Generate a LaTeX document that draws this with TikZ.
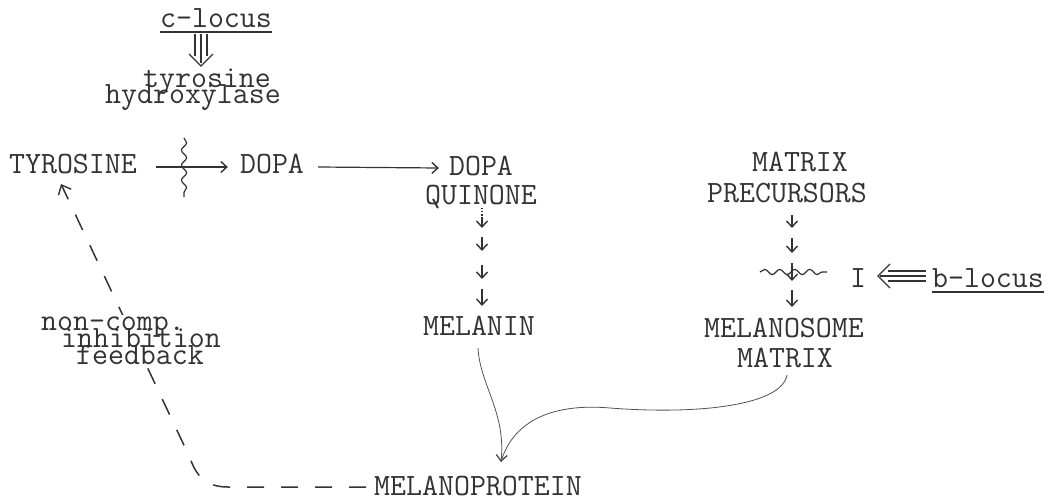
\documentclass[tikz,border=0pt]{standalone}
\usetikzlibrary{arrows.meta,decorations.pathmorphing,backgrounds,fit}
\definecolor{ink}{gray}{0.2}
\begin{document}
\begin{tikzpicture}[x=1pt,y=-1pt,
  lbl/.style={inner sep=0pt, text=ink, font=\ttfamily\fontsize{31}{34}\selectfont, anchor=base},
  conn/.style={draw=ink, line width=1.2pt},
  thin/.style={draw=ink!85, line width=0.8pt},
  tipv/.style={-{Straight Barb[length=6pt,width=11pt,line width=1.4pt]}},
  wavy/.style={decorate, decoration={snake, amplitude=2.6pt, segment length=15pt}},
  fbdash/.style={draw=ink, line width=1.5pt, dash pattern=on 17pt off 17pt}
]
\useasboundingbox (0,0) rectangle (1061,501);

% ---- text nodes
\node[lbl] (clocus) at (216,27) {c-locus};
\node[lbl] (tyrh1) at (207,87) {tyrosine};
\node[lbl] (tyrh2) at (193,103) {hydroxylase};
\node[lbl] (tyr) at (73,173) {TYROSINE};
\node[lbl] (dopa) at (272,173) {DOPA};
\node[lbl] (dq1) at (481,175) {DOPA};
\node[lbl] (dq2) at (481,204) {QUINONE};
\node[lbl] (melanin) at (479,335) {MELANIN};
\node[lbl] (mp) at (478,495) {MELANOPROTEIN};
\node[lbl] (mx1) at (800,171) {MATRIX};
\node[lbl] (mx2) at (787,202) {PRECURSORS};
\node[lbl] (ms1) at (784,337) {MELANOSOME};
\node[lbl] (ms2) at (785,367) {MATRIX};
\node[lbl] (inh) at (858,287) {I};
\node[lbl] (blocus) at (988,287) {b-locus};
\node[lbl] (fb1) at (113,330) {non-comp.};
\node[lbl] (fb2) at (141,347) {inhibition};
\node[lbl] (fb3) at (140,364) {feedback};

% ---- underlines
\draw[conn] ([shift={(0,5)}]clocus.base west) -- ([shift={(0,5)}]clocus.base east);
\draw[conn] ([shift={(0,5)}]blocus.base west) -- ([shift={(0,5)}]blocus.base east);

% ---- triple arrow c-locus => tyrosine hydroxylase
\coordinate (cA) at (201,34);
\coordinate (cB) at (201,66);
\draw[conn] ([shift={(-6,0)}]cA) -- ([shift={(-6,22)}]cA);
\draw[conn] (cA) -- ([shift={(0,29)}]cA);
\draw[conn] ([shift={(6,0)}]cA) -- ([shift={(6,22)}]cA);
\draw[conn] ([shift={(-12,-12)}]cB) -- (cB) -- ([shift={(12,-12)}]cB);

% ---- triple arrow b-locus => I
\coordinate (bA) at (926,276);
\coordinate (bB) at (878,276);
\draw[conn] ([shift={(0,-5)}]bA) -- ([shift={(-38,-5)}]bA);
\draw[conn] (bA) -- ([shift={(-46,0)}]bA);
\draw[conn] ([shift={(0,5)}]bA) -- ([shift={(-38,5)}]bA);
\draw[conn] ([shift={(12,-12)}]bB) -- (bB) -- ([shift={(12,12)}]bB);

% ---- main horizontal arrows
\draw[conn,tipv] ([shift={(19,-6)}]tyr.base east) -- ([shift={(-12,-6)}]dopa.base west);
\draw[conn,wavy] (184,138) -- (184,197);
\draw[conn,tipv] ([shift={(14,-6)}]dopa.base east) -- ([shift={(-10,-7)}]dq1.base west);

% ---- DOPA QUINONE -> MELANIN chain
\draw[conn,dotted] (482,208) -- (482,218);
\draw[conn,tipv] (482,217) -- (482,228);
\draw[conn,tipv] (482,237) -- (482,251);
\draw[conn,tipv] (482,265) -- (482,279);
\draw[conn,tipv] (482,289) -- (482,306);

% ---- MATRIX PRECURSORS -> MELANOSOME MATRIX chain
\draw[conn,tipv] (792,215) -- (792,228);
\draw[conn,tipv] (792,238) -- (792,253);
\draw[conn,wavy] (760,272) -- (827,272);
\draw[conn,tipv] (792,263) -- (792,281);
\draw[conn,tipv] (792,290) -- (792,307);

% ---- curves to MELANOPROTEIN
\coordinate (mptip) at (501,462);
\draw[thin,tipv] ([shift={(-1,13)}]melanin.base) .. controls (480,385) and (506,412) .. (mptip);
\draw[thin] ([shift={(2,8)}]ms2.base) .. controls (782,405) and (700,415) .. (610,408)
  .. controls (540,402) and (510,430) .. (mptip);

% ---- feedback dashed arrow with label gap
\begin{scope}[on background layer]
\draw[fbdash,-{Straight Barb[length=8pt,width=14pt,line width=1.4pt]}]
  ([shift={(-8,-8)}]mp.base west) -- (228,487) .. controls (205,487) and (196,475) .. (190,458) -- (61,184);
\node[fit=(fb1)(fb2)(fb3), fill=white, inner sep=1pt] (fbbg) {};
\end{scope}
\end{tikzpicture}
\end{document}
